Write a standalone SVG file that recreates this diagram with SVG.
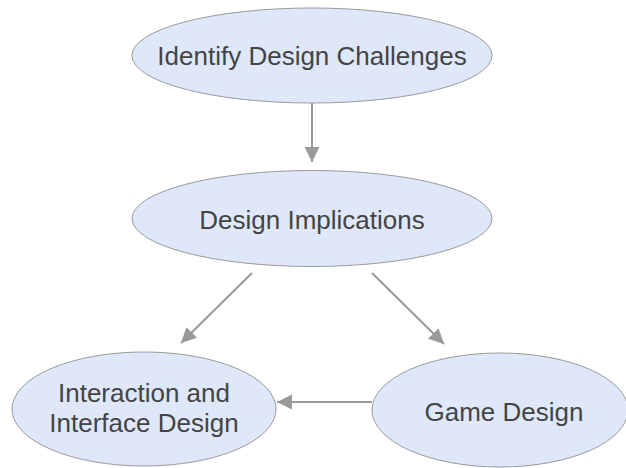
<svg xmlns="http://www.w3.org/2000/svg" width="626" height="468" viewBox="0 0 626 468">
<style>
.node ellipse{fill:#dfe8fa;stroke:#9a9a9a;stroke-width:1}
.node text{font-family:"Liberation Sans",Arial,sans-serif;font-size:26px;fill:#444;text-anchor:middle}
.edge{stroke:#999;stroke-width:2;fill:none;marker-end:url(#ah)}
</style>
<defs>
<marker id="ah" markerUnits="userSpaceOnUse" markerWidth="16" markerHeight="16" refX="15" refY="7.5" orient="auto">
<path d="M0,0 L15,7.5 L0,15 z" fill="#999"/>
</marker>
</defs>
<rect width="626" height="468" fill="#fff"/>
<g id="connectors">
<line class="edge" x1="312" y1="103" x2="312" y2="162"/>
<line class="edge" x1="252" y1="273" x2="181" y2="343"/>
<line class="edge" x1="372" y1="273" x2="444" y2="344"/>
<line class="edge" x1="372" y1="402" x2="277" y2="402"/>
</g>
<g id="identify" class="node">
<ellipse cx="312" cy="55.5" rx="180" ry="47.5"/>
<text x="312" y="65">Identify Design Challenges</text>
</g>
<g id="implications" class="node">
<ellipse cx="312" cy="218.5" rx="180" ry="48"/>
<text x="312" y="229">Design Implications</text>
</g>
<g id="interaction" class="node">
<ellipse cx="144" cy="409" rx="132" ry="57"/>
<text x="144" y="402">Interaction and</text>
<text x="144" y="432">Interface Design</text>
</g>
<g id="game" class="node">
<ellipse cx="500" cy="410" rx="128" ry="57"/>
<text x="504" y="421">Game Design</text>
</g>
</svg>
